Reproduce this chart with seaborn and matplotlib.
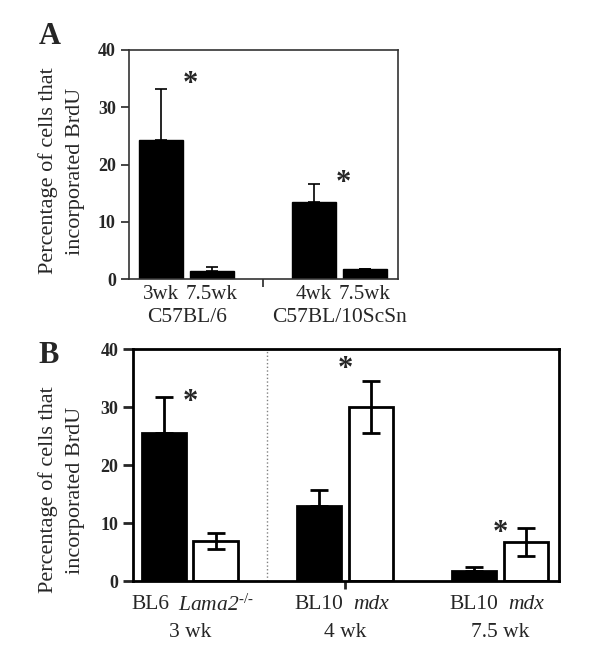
import numpy as np
import matplotlib
matplotlib.use("Agg")
import matplotlib.pyplot as plt
import matplotlib.transforms as mtransforms
import seaborn as sns

# panel A data
a_pos = [0, 1, 3, 4]
a_ticks = ["3wk", "7.5wk", "4wk", "7.5wk"]
a_groups = ["C57BL/6", "C57BL/10ScSn"]
a_mean = [24.2, 1.4, 13.5, 1.7]
a_err = [9.0, 0.7, 3.1, 0.0]
a_star_y = [35.1, 17.8]

# panel B data
b_pos = [0, 1, 3, 4, 6, 7]
b_ticks = ["BL6", "$\\mathsf{Lama2}^{\\mathregular{\u2010/\u2010}}$", "BL10", "mdx", "BL10", "mdx"]
b_groups = ["3 wk", "4 wk", "7.5 wk"]
b_mean = [25.6, 6.9, 13.0, 30.0, 1.7, 6.7]
b_err = [6.1, 1.45, 2.7, 4.5, 0.7, 2.4]
b_fill = ["black", "white", "black", "white", "black", "white"]
b_star_y = [31.9, 37.6, 9.3]

sns.set_style("ticks")
plt.rcParams["font.family"] = ["Liberation Serif", "DejaVu Serif"]
plt.rcParams["mathtext.fontset"] = "custom"
plt.rcParams["mathtext.rm"] = "Liberation Serif"
plt.rcParams["mathtext.it"] = "Liberation Serif:italic"
plt.rcParams["mathtext.sf"] = "Liberation Serif:italic"  # italic incl. digits

fig = plt.figure(figsize=(6, 6.59), dpi=100)
axA = fig.add_axes([129 / 600, 1 - 279 / 659, 269 / 600, 229 / 659])
axB = fig.add_axes([133 / 600, 1 - 581 / 659, 426 / 600, 232 / 659])

ylab = "Percentage of cells that\nincorporated BrdU"
star_fs = 22


def star(ax, x, y):
    # asterisk glyph sits high in its box, so anchor at baseline and drop it
    tr = mtransforms.offset_copy(ax.transData, fig=fig, y=-0.45 * star_fs, units="points")
    ax.text(x, y, "*", ha="center", va="baseline", fontsize=star_fs,
            fontweight="bold", transform=tr)


# ---- A
sns.barplot(x=a_pos, y=a_mean, native_scale=True, color="black", saturation=1,
            width=0.86, errorbar=None, edgecolor="black", ax=axA)
axA.errorbar(a_pos, a_mean, yerr=[np.zeros(len(a_err)), a_err], fmt="none",
             ecolor="black", elinewidth=1.2, capsize=4.5, capthick=1.2, zorder=3)
axA.set_xlim(-0.63, 4.65)
axA.set_ylim(0, 40)
axA.set_yticks([0, 10, 20, 30, 40])
axA.set_xticks(a_pos, a_ticks)
axA.set_xticks([2], minor=True)
axA.tick_params(axis="x", which="major", length=0, pad=4, labelsize=15)
axA.tick_params(axis="x", which="minor", length=6, width=1.2, direction="out")
axA.tick_params(axis="y", length=6, width=1.2, labelsize=13)
for t in axA.get_yticklabels():
    t.set_fontweight("bold")
for s in axA.spines.values():
    s.set_linewidth(1.2)
    s.set_color("#333333")
trA = mtransforms.blended_transform_factory(axA.transData, axA.transAxes)
for i, g in enumerate(a_groups):
    axA.text(np.mean(a_pos[2 * i:2 * i + 2]), -0.17, g, transform=trA,
             ha="center", va="center", fontsize=15.5)
for i, sy in enumerate(a_star_y):
    star(axA, a_pos[2 * i] + 0.57, sy)
axA.set_ylabel(ylab, fontsize=16, linespacing=1.55)
axA.yaxis.set_label_coords(-0.165, 0.472)
axA.set_xlabel("")

# ---- B
sns.barplot(x=b_pos, y=b_mean, hue=b_fill, palette={"black": "black", "white": "white"},
            dodge=False, native_scale=True, saturation=1, width=0.86, errorbar=None,
            edgecolor="black", linewidth=2, legend=False, ax=axB)
b_low = [e if f == "white" else 0 for e, f in zip(b_err, b_fill)]
axB.errorbar(b_pos, b_mean, yerr=[b_low, b_err], fmt="none", ecolor="black",
             elinewidth=2, capsize=6.5, capthick=2, zorder=3)
axB.axvline(2.0, color="grey", linestyle=":", linewidth=1)
axB.set_xlim(-0.6, 7.64)
axB.set_ylim(0, 40)
axB.set_yticks([0, 10, 20, 30, 40])
axB.set_xticks(b_pos, b_ticks)
axB.set_xticks([3.5], minor=True)
axB.tick_params(axis="x", which="major", length=0, pad=10, labelsize=15.5)
axB.tick_params(axis="x", which="minor", length=6, width=2, direction="out")
axB.tick_params(axis="y", length=7, width=2, labelsize=13)
for t in axB.get_yticklabels():
    t.set_fontweight("bold")
xl = axB.get_xticklabels()
for t, lab in zip(xl, b_ticks):
    if lab == "mdx":
        t.set_fontstyle("italic")
xl[0].set_transform(xl[0].get_transform() +
                    mtransforms.ScaledTranslation(-0.14, 0, fig.dpi_scale_trans))
for s in axB.spines.values():
    s.set_linewidth(2)
    s.set_color("black")
trB = mtransforms.blended_transform_factory(axB.transData, axB.transAxes)
for i, g in enumerate(b_groups):
    axB.text(np.mean(b_pos[2 * i:2 * i + 2]), -0.22, g, transform=trB,
             ha="center", va="center", fontsize=15.5)
for i, sy in enumerate(b_star_y):
    star(axB, b_pos[2 * i] + 0.5, sy)
axB.set_ylabel(ylab, fontsize=16, linespacing=1.55)
axB.yaxis.set_label_coords(-0.113, 0.392)
axB.set_xlabel("")

fig.text(50 / 600, 1 - 37 / 659, "A", ha="center", va="center", fontsize=22, fontweight="bold")
fig.text(49 / 600, 1 - 356 / 659, "B", ha="center", va="center", fontsize=22, fontweight="bold")

fig.savefig("out.png", dpi=100)
